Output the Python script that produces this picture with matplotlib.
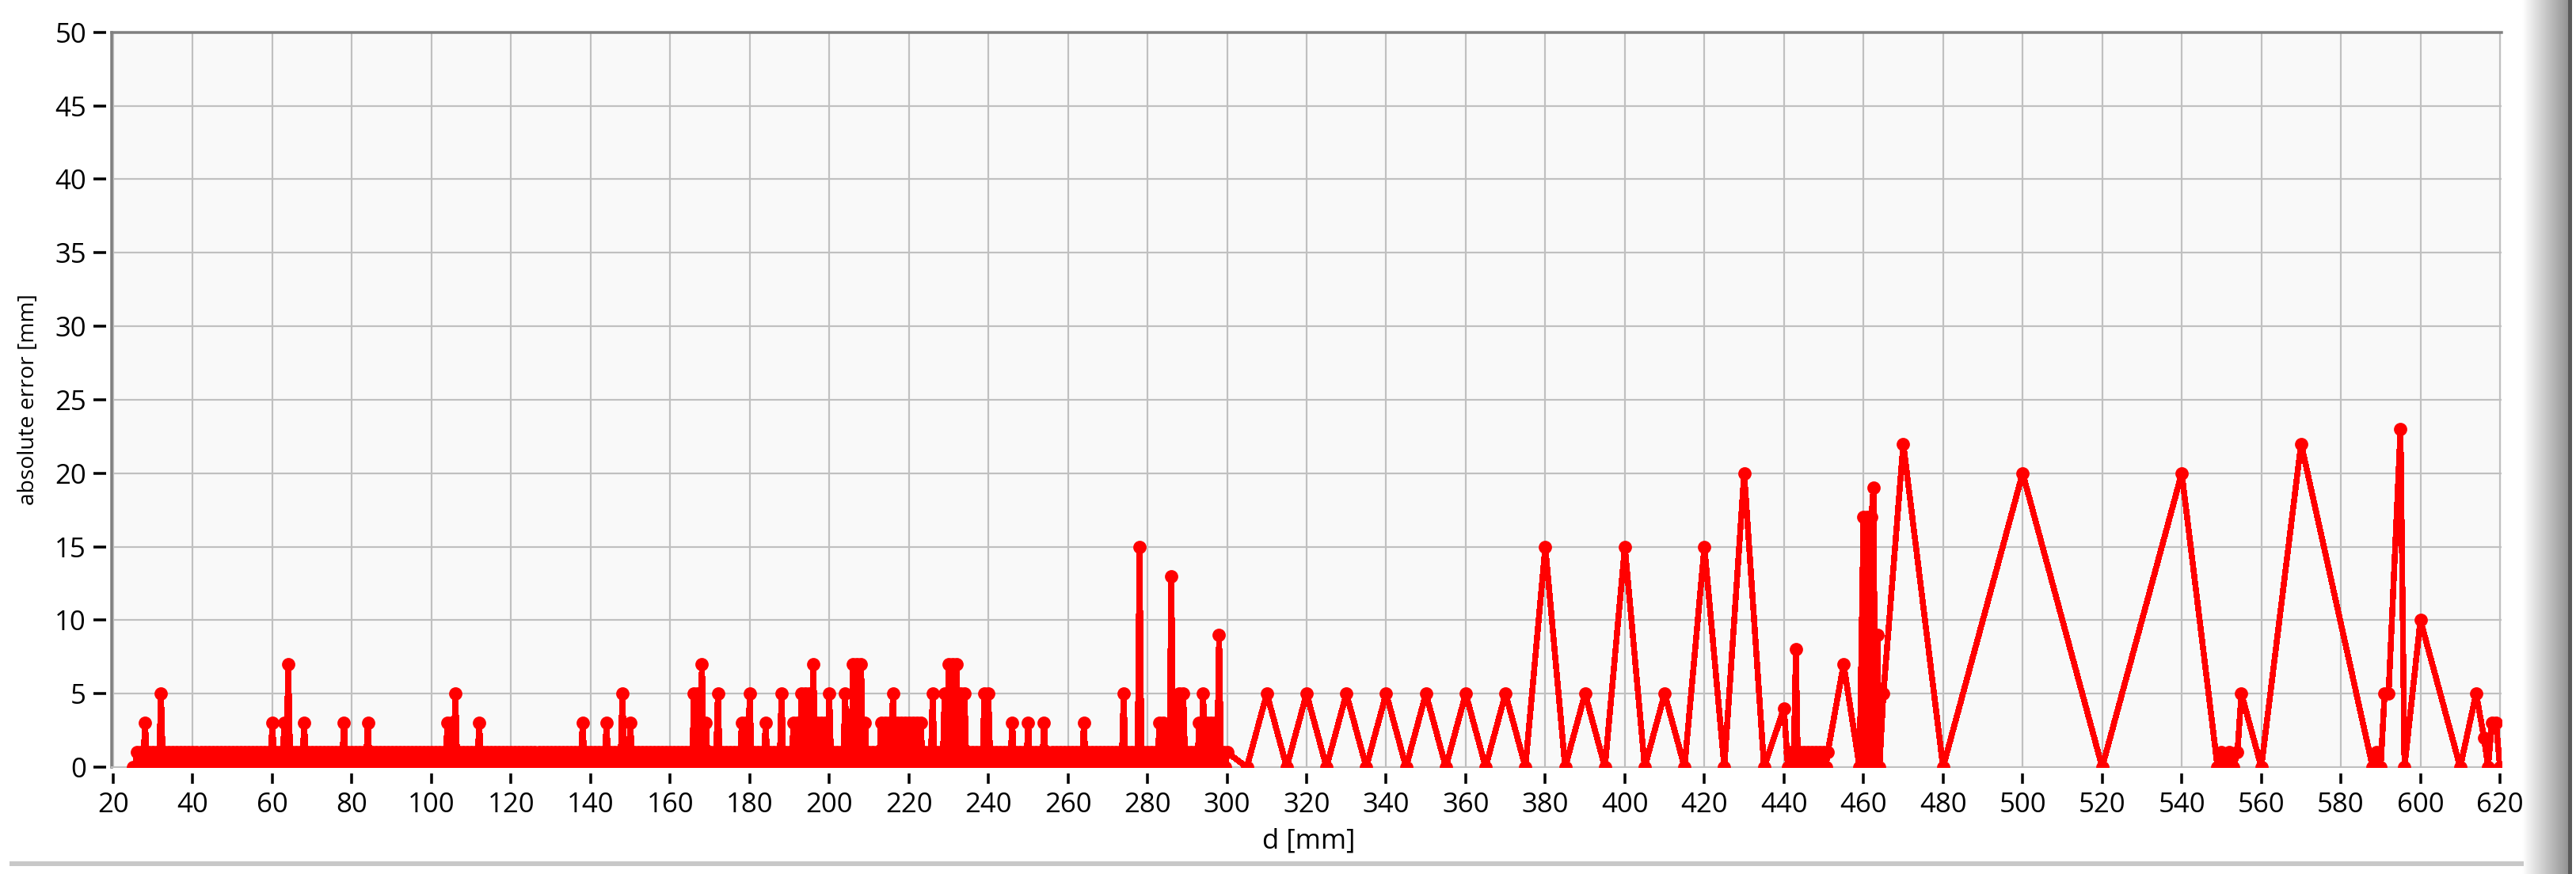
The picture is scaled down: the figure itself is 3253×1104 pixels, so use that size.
import numpy as np
import matplotlib
matplotlib.use("Agg")
import matplotlib.pyplot as plt
from matplotlib.path import Path

# measured distance d [mm] and absolute error [mm]
# close range: one sample every 0.5 mm from 25 to 300 mm
# each row = 5 mm (values at d.0, d.5, d+1.0, d+1.5, ...)
d_near = np.arange(25, 300.5, 0.5)
err_near = [
    0, 0, 1, 0, 1, 0, 3, 0, 1, 0,     # 25
    1, 0, 1, 0, 5, 0, 1, 0, 1, 0,     # 30
    1, 0, 1, 0, 1, 0, 1, 0, 1, 0,     # 35
    1, 0, 1, 0, 1, 0, 1, 0, 1, 0,     # 40
    1, 0, 1, 0, 1, 0, 1, 0, 1, 0,     # 45
    1, 0, 1, 0, 1, 0, 1, 0, 1, 0,     # 50
    1, 0, 1, 0, 1, 0, 1, 0, 1, 0,     # 55
    3, 0, 1, 0, 1, 0, 3, 0, 7, 0,     # 60
    1, 0, 1, 0, 1, 0, 3, 0, 1, 0,     # 65
    1, 0, 1, 0, 1, 0, 1, 0, 1, 0,     # 70
    1, 0, 1, 0, 1, 0, 3, 0, 1, 0,     # 75
    1, 0, 1, 0, 1, 0, 1, 0, 3, 0,     # 80
    1, 0, 1, 0, 1, 0, 1, 0, 1, 0,     # 85
    1, 0, 1, 0, 1, 0, 1, 0, 1, 0,     # 90
    1, 0, 1, 0, 1, 0, 1, 0, 1, 0,     # 95
    1, 0, 1, 0, 1, 0, 1, 0, 3, 0,     # 100
    3, 0, 5, 0, 1, 0, 1, 0, 1, 0,     # 105
    1, 0, 1, 0, 3, 0, 1, 0, 1, 0,     # 110
    1, 0, 1, 0, 1, 0, 1, 0, 1, 0,     # 115
    1, 0, 1, 0, 1, 0, 1, 0, 1, 0,     # 120
    1, 0, 1, 0, 1, 0, 1, 0, 1, 0,     # 125
    1, 0, 1, 0, 1, 0, 1, 0, 1, 0,     # 130
    1, 0, 1, 0, 1, 0, 3, 0, 1, 0,     # 135
    1, 0, 1, 0, 1, 0, 1, 0, 3, 0,     # 140
    1, 0, 1, 0, 1, 0, 5, 0, 1, 0,     # 145
    3, 0, 1, 0, 1, 0, 1, 0, 1, 0,     # 150
    1, 0, 1, 0, 1, 0, 1, 0, 1, 0,     # 155
    1, 0, 1, 0, 1, 0, 1, 0, 1, 0,     # 160
    1, 0, 5, 0, 5, 0, 7, 0, 3, 0,     # 165
    1, 0, 1, 0, 5, 0, 1, 0, 1, 0,     # 170
    1, 0, 1, 0, 1, 0, 3, 0, 3, 0,     # 175
    5, 0, 1, 0, 1, 0, 1, 0, 3, 0,     # 180
    1, 0, 1, 0, 1, 0, 5, 0, 1, 0,     # 185
    1, 0, 3, 0, 3, 0, 5, 0, 5, 0,     # 190
    5, 0, 7, 0, 3, 0, 3, 0, 3, 0,     # 195
    5, 0, 1, 0, 1, 0, 1, 0, 5, 0,     # 200
    1, 0, 7, 0, 7, 0, 7, 0, 3, 0,     # 205
    1, 0, 1, 0, 1, 0, 3, 0, 3, 0,     # 210
    3, 0, 5, 0, 3, 0, 3, 0, 3, 0,     # 215
    3, 0, 3, 0, 3, 0, 3, 0, 1, 0,     # 220
    1, 0, 5, 0, 1, 0, 1, 0, 5, 0,     # 225
    7, 0, 7, 0, 7, 0, 5, 0, 5, 0,     # 230
    1, 0, 1, 0, 1, 0, 1, 0, 5, 0,     # 235
    5, 0, 1, 0, 1, 0, 1, 0, 1, 0,     # 240
    1, 0, 3, 0, 1, 0, 1, 0, 1, 0,     # 245
    3, 0, 1, 0, 1, 0, 1, 0, 3, 0,     # 250
    1, 0, 1, 0, 1, 0, 1, 0, 1, 0,     # 255
    1, 0, 1, 0, 1, 0, 1, 0, 3, 0,     # 260
    1, 0, 1, 0, 1, 0, 1, 0, 1, 0,     # 265
    1, 0, 1, 0, 1, 0, 1, 0, 5, 0,     # 270
    1, 0, 1, 0, 1, 0, 15, 0, 1, 0,    # 275
    1, 0, 1, 0, 1, 0, 3, 0, 3, 0,     # 280
    1, 0, 13, 0, 1, 0, 5, 0, 5, 0,    # 285
    1, 0, 1, 0, 1, 0, 3, 0, 5, 0,     # 290
    3, 0, 3, 0, 3, 0, 9, 0, 1, 0,     # 295
    1,                                # 300
]

# far range: sparser samples
d_far = [305, 310, 315, 320, 325, 330, 335, 340, 345, 350,
         355, 360, 365, 370, 375, 380, 385, 390, 395, 400,
         405, 410, 415, 420, 425, 430, 435,
         440, 441, 441.5, 442, 442.5, 443, 443.5, 444, 444.5, 445,
         445.5, 446, 446.5, 447, 447.5, 448, 448.5, 449, 449.5, 450,
         450.5, 451,
         455, 459, 460, 460.5, 461, 461.5, 462, 462.5, 463, 463.5,
         464, 465,
         470, 480, 500, 520, 540,
         549, 550, 551, 552, 553, 554, 555,
         560, 570,
         588, 589, 590, 591, 592,
         595, 596, 600, 610,
         614, 616, 617, 618, 619, 620]
err_far = [0, 5, 0, 5, 0, 5, 0, 5, 0, 5,
           0, 5, 0, 5, 0, 15, 0, 5, 0, 15,
           0, 5, 0, 15, 0, 20, 0,
           4, 0, 1, 0, 1, 8, 0, 1, 0, 1,
           0, 1, 0, 1, 0, 1, 0, 1, 0, 1,
           0, 1,
           7, 0, 17, 0, 17, 0, 17, 19, 0, 9,
           0, 5,
           22, 0, 20, 0, 20,
           0, 1, 0, 1, 0, 1, 5,
           0, 22,
           0, 1, 0, 5, 5,
           23, 0, 10, 0,
           5, 2, 0, 3, 3, 0]

x_ticks = list(range(20, 621, 20))
y_ticks = list(range(0, 51, 5))

d = np.concatenate([d_near, d_far])
err = np.concatenate([err_near, err_far])

plt.rcParams['font.family'] = ['Open Sans', 'DejaVu Sans']

W, H, DPI = 3253, 1104, 200
fig = plt.figure(figsize=(W / DPI, H / DPI), dpi=DPI, facecolor='white')


def px2pt(p):
    return p * 72.0 / DPI


# plot area in pixels of the screenshot
left, right, top, bottom = 141, 3159, 40.7, 969
ax = fig.add_axes([left / W, 1 - bottom / H, (right - left) / W, (bottom - top) / H])
ax.set_facecolor('#f9f9f9')

ax.plot(d, err, color='#ff0000', lw=px2pt(6.5), marker='o',
        ms=px2pt(14), mec='#ff0000', mfc='#ff0000', antialiased=False, zorder=3)

ax.set_xlim(19.6, 620.4)
ax.set_ylim(0, 50)
ax.set_xticks(x_ticks)
ax.set_yticks(y_ticks)
ax.grid(True, color='#c0c0c0', lw=px2pt(2.2), zorder=0)
ax.set_axisbelow(True)

for s in ['left', 'top']:
    ax.spines[s].set_color('#808080')
    ax.spines[s].set_linewidth(px2pt(3.5))
ax.spines['bottom'].set_color('#c0c0c0')
ax.spines['bottom'].set_linewidth(px2pt(2))
ax.spines['right'].set_visible(False)

ax.tick_params(axis='y', direction='out', length=px2pt(23), width=px2pt(3.5),
               pad=px2pt(9), labelsize=12.5, colors='black')
ax.tick_params(axis='x', direction='out', length=px2pt(21), width=px2pt(3.5),
               pad=px2pt(10), labelsize=12.5, colors='black')

# ticks in the reference stand off the axis by a few pixels
ytick_path = Path([(-1, 0), (-0.3, 0)])
xtick_path = Path([(0, -1), (0, -0.38)])
for t in ax.yaxis.get_major_ticks():
    t.tick1line.set_marker(ytick_path)
    t.tick1line.set_markersize(2 * px2pt(23))
for t in ax.xaxis.get_major_ticks():
    t.tick1line.set_marker(xtick_path)
    t.tick1line.set_markersize(2 * px2pt(21))

ax.set_xlabel('d [mm]', fontsize=12.5)
ax.set_ylabel('absolute error [mm]', fontsize=10.2)
ax.xaxis.set_label_coords(0.501, -0.083)
ax.yaxis.set_label_coords(-0.0302, 0.5)

# window frame bits of the screenshot: bottom rule and right shadow
frame = fig.add_axes([0, 0, 1, 1], zorder=-5)
frame.axis('off')
frame.add_patch(plt.Rectangle((12, 1088), 3175, 6, color='#c8c8c8', lw=0))
grad = np.linspace(1.0, 0.58, 64)[None, :]
frame.imshow(np.dstack([grad, grad, grad]), extent=(3185, 3243, H, 0), aspect='auto')
frame.add_patch(plt.Rectangle((3243, 0), 5, H, color='#5a5a5a', lw=0))
frame.set_xlim(0, W)
frame.set_ylim(H, 0)

fig.savefig('out.png', dpi=DPI, facecolor='white')
